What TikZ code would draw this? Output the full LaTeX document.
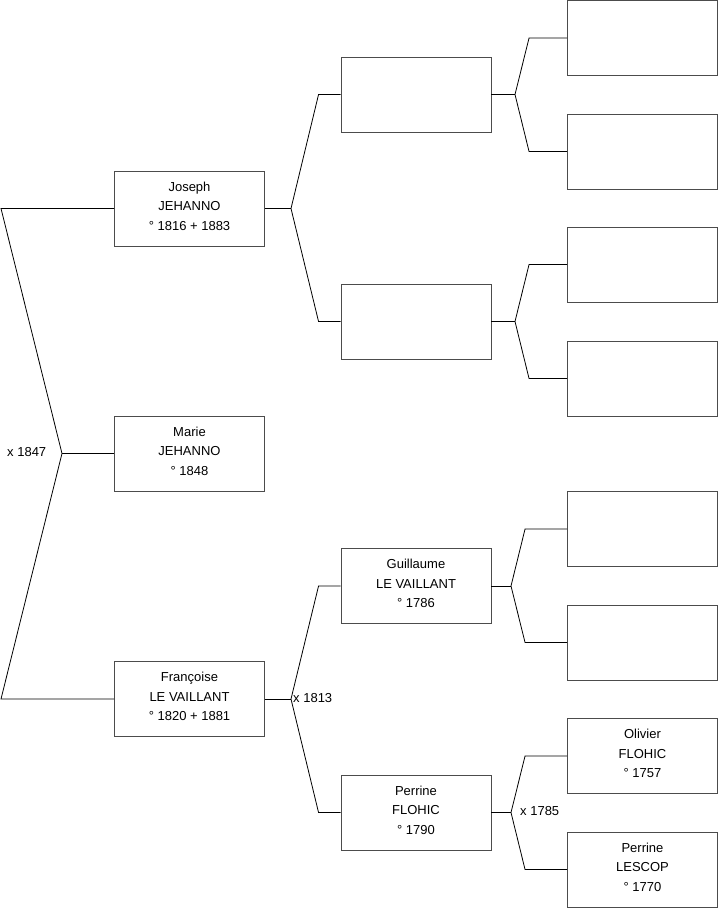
\documentclass[tikz,border=0pt]{standalone}
\usepackage{fontspec}
\setmainfont{Liberation Sans}
\begin{document}
\begin{tikzpicture}[x=1pt,y=-1pt,
  person/.style={draw=black!70,line width=0.9pt,minimum width=150pt,minimum height=75pt,inner sep=0pt,align=center,text depth=5pt,font=\fontsize{13}{19.5}\selectfont},
  link/.style={line width=0.8pt},
  wed/.style={anchor=west,inner sep=0pt,font=\fontsize{13}{14}\selectfont}]
\useasboundingbox (0,0) rectangle (719,908);
\node[person] (joseph) at (189.5,208.5) {Joseph\\JEHANNO\\° 1816 + 1883};
\node[person] (marie) at (189.5,453.5) {Marie\\JEHANNO\\° 1848};
\node[person] (francoise) at (189.5,699) {Françoise\\LE VAILLANT\\° 1820 + 1881};
\node[person] (b1) at (416,94.5) {};
\node[person] (b2) at (416,321.5) {};
\node[person] (guillaume) at (416,586) {Guillaume\\LE VAILLANT\\° 1786};
\node[person] (perrineF) at (416,812.5) {Perrine\\FLOHIC\\° 1790};
\node[person] (c1) at (642.5,38) {};
\node[person] (c2) at (642.5,151.5) {};
\node[person] (c3) at (642.5,264.5) {};
\node[person] (c4) at (642.5,378.5) {};
\node[person] (c5) at (642.5,529) {};
\node[person] (c6) at (642.5,642.5) {};
\node[person] (olivier) at (642.5,756) {Olivier\\FLOHIC\\° 1757};
\node[person] (perrineL) at (642.5,869.5) {Perrine\\LESCOP\\° 1770};
\coordinate (top) at (1,208.5);
\coordinate (bot) at (1,699);
\coordinate (m0) at (62,453.5);
\coordinate (m1) at (291,208.5);
\coordinate (m2) at (291,699);
\coordinate (m3) at (515,94.5);
\coordinate (m4) at (515,321.5);
\coordinate (m5) at (511,586);
\coordinate (m6) at (511,812.5);
\draw[link] (joseph.west) -- (top) -- (m0) -- (bot) -- (francoise.west);
\draw[link] (m0) -- (marie.west);
\draw[link] (joseph.east) -- (m1);
\draw[link] (b1.west) -- ([xshift=-22pt]b1.west) -- (m1) -- ([xshift=-22pt]b2.west) -- (b2.west);
\draw[link] (francoise.east) -- (m2);
\draw[link] (guillaume.west) -- ([xshift=-22pt]guillaume.west) -- (m2) -- ([xshift=-22pt]perrineF.west) -- (perrineF.west);
\draw[link] (b1.east) -- (m3);
\draw[link] (c1.west) -- ([xshift=-38pt]c1.west) -- (m3) -- ([xshift=-38pt]c2.west) -- (c2.west);
\draw[link] (b2.east) -- (m4);
\draw[link] (c3.west) -- ([xshift=-38pt]c3.west) -- (m4) -- ([xshift=-38pt]c4.west) -- (c4.west);
\draw[link] (guillaume.east) -- (m5);
\draw[link] (c5.west) -- ([xshift=-42pt]c5.west) -- (m5) -- ([xshift=-42pt]c6.west) -- (c6.west);
\draw[link] (perrineF.east) -- (m6);
\draw[link] (olivier.west) -- ([xshift=-42pt]olivier.west) -- (m6) -- ([xshift=-42pt]perrineL.west) -- (perrineL.west);
\node[wed] (w1847) at (7,452) {x 1847};
\node[wed] (w1813) at (293,698) {x 1813};
\node[wed] (w1785) at (520,811) {x 1785};
\end{tikzpicture}
\end{document}
